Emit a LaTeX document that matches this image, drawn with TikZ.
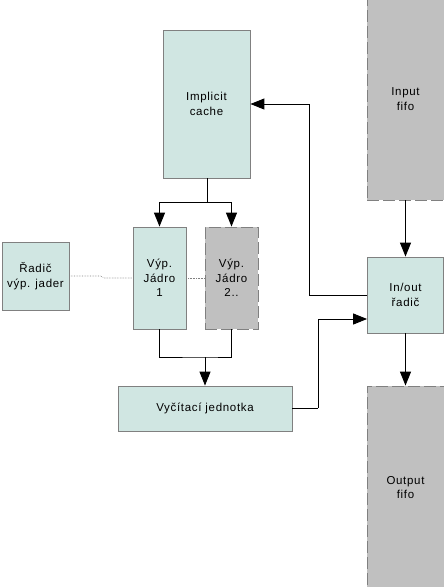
\documentclass[tikz,border=0pt]{standalone}
\usepackage{fontspec}
\setmainfont{Liberation Sans}
\usepackage{xcolor}
\usetikzlibrary{arrows.meta}
\definecolor{boxteal}{RGB}{208,230,226}
\definecolor{boxgray}{RGB}{192,192,192}
\definecolor{edgegray}{RGB}{128,128,128}

\begin{document}
\begin{tikzpicture}[x=1pt,y=-1pt,
        block/.style={draw=edgegray,fill=boxteal,line width=0.8pt,inner sep=0pt,align=center,
            font=\fontsize{11.5}{14.5}\selectfont\addfontfeature{LetterSpace=6}},
        fifo/.style={block,fill=boxgray,dash pattern=on 12pt off 4pt},
        link/.style={line width=0.9pt,black},
        arr/.style={link,-{Triangle[length=14pt,width=11pt]}},
        wire/.style={densely dotted,line width=0.6pt,edgegray}]
        \useasboundingbox (0,0) rectangle (444,587);
        \node[block,minimum width=87pt,minimum height=148pt] (cache) at (206.5,104) {Implicit\\cache};
        \node[block,minimum width=53pt,minimum height=102pt] (core1) at (159.5,278) {Výp.\\Jádro\\1};
        \node[fifo,minimum width=53pt,minimum height=102pt] (core2) at (231.5,278) {Výp.\\Jádro\\2..};
        \node[block,minimum width=67pt,minimum height=68pt] (coreradic) at (35.5,276) {Řadič\\výp. jader};
        \node[block,minimum width=174pt,minimum height=45pt] (readout) at (205,408.5) {Vyčítací jednotka};
        \node[fifo,minimum width=77pt,minimum height=202pt] (infifo) at (405.5,99) {Input\\fifo};
        \node[block,minimum width=76pt,minimum height=76pt] (ioradic) at (405.5,295) {In/out\\řadič};
        \node[fifo,minimum width=77pt,minimum height=203pt] (outfifo) at (405.5,487.5) {Output\\fifo};
        \coordinate (split) at (207,202);
        \coordinate (join) at (205,357);
        \coordinate (back) at (309,295);
        \coordinate (fwd) at (318,408);
        \draw[link] (cache.south -| split) -- (split);
        \draw[arr] (split) -| (core1.north);
        \draw[arr] (split) -| (core2.north);
        \draw[link] (core1.south) |- (join) -| (core2.south);
        \draw[arr] (join) -- (readout.north);
        \draw[link] (readout.east |- fwd) -- (fwd);
        \draw[arr] (fwd) |- ([yshift=-24pt]ioradic.west);
        \draw[arr] (ioradic.west) -- (back) |- (cache.east);
        \draw[arr] (infifo.south) -- (ioradic.north);
        \draw[arr] (ioradic.south) -- (outfifo.north);
        \draw[wire] (coreradic.east) -- ++(31,0) -- ++(4,2) -- (core1.west);
        \draw[wire] (core1.east) -- (core2.west);
\end{tikzpicture}
\end{document}
